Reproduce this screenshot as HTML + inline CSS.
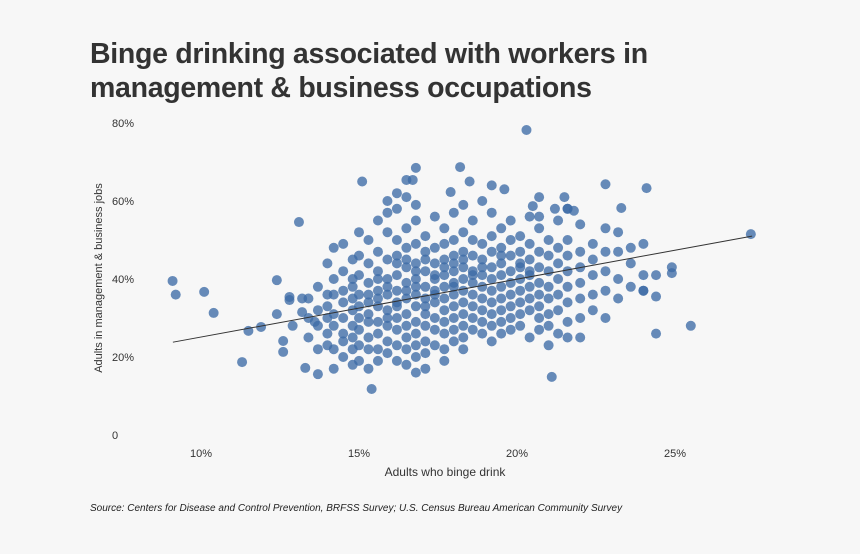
<!DOCTYPE html>
<html><head><meta charset="utf-8">
<style>
body{margin:0;background:#f7f7f7;font-family:"Liberation Sans",sans-serif;}
#wrap{position:relative;width:860px;height:554px;background:#f7f7f7;overflow:hidden;}
h1{position:absolute;left:90px;top:37px;margin:0;font-size:28.5px;line-height:34px;font-weight:bold;color:#333;letter-spacing:-0.3px;}
.src{position:absolute;left:90px;top:503px;font-size:10px;font-style:italic;color:#222;}
svg text{font-family:"Liberation Sans",sans-serif;}
</style></head><body>
<div id="wrap">
<h1>Binge drinking associated with workers in<br>management &amp; business occupations</h1>
<svg id="chart" width="860" height="554" style="position:absolute;left:0;top:0"></svg>
<div class="src">Source: Centers for Disease and Control Prevention, BRFSS Survey; U.S. Census Bureau American Community Survey</div>
</div>
<script>
const xTicks=[10,15,20,25];
const xTickLabels=["10%","15%","20%","25%"];
const yTicks=[0,20,40,60,80];
const yTickLabels=["0","20%","40%","60%","80%"];
const trendX=[9.11,27.44];
const trendY=[23.8,51.0];
const outlierX=[9.1,9.2,10.1,10.4,11.3,11.5,11.9,12.4,12.4,12.6,12.6,12.8,12.8,13.1,13.2,13.2,13.3,13.6,13.7,20.3,27.4,25.5,24.4,24.9,24.9,24.4,24.4,24.0,24.1,22.8,23.3,21.1,15.4,15.1,16.8,18.2,18.5,16.5,16.7,19.2,19.6,17.9,20.7,21.5,21.6,21.8,21.2,20.5,20.7];
const outlierY=[39.5,36,36.7,31.3,18.7,26.7,27.7,39.7,31,24.1,21.3,34.6,35.4,54.6,35,31.5,17.2,29,15.6,78.2,51.5,28,26,43,41.5,41,35.5,37,63.3,64.3,58.2,14.9,11.8,65,68.5,68.7,65,65.4,65.4,64,63,62.3,61,61,58,57.5,58,58.7,56];
const colX=[12.9,13.4,13.7,14.0,14.2,14.5,14.8,15.0,15.3,15.6,15.9,16.2,16.5,16.8,17.1,17.4,17.7,18.0,18.3,18.6,18.9,19.2,19.5,19.8,20.1,20.4,20.7,21.0,21.3,21.6,22.0,22.4,22.8,23.2,23.6,24.0];
const colY=[[28],[30,25,35],[32,28,22,38],[36,30,26,23,44,33],[48,36,28,22,17,31,40],[49,42,34,26,24,37,30,20],[45,38,32,28,22,35,40,25,18],[46,41,36,30,27,23,33,52,19],[50,44,39,34,29,25,22,31,36,17],[55,47,42,37,33,29,26,22,19,40,35],[60,52,45,40,36,32,28,24,21,38,30,57],[58,50,46,41,37,34,30,27,23,19,44,33,62],[61,53,48,43,39,35,31,28,25,22,18,37,45],[59,55,49,44,40,36,33,29,26,23,20,16,42,38],[51,47,42,38,35,31,28,24,21,17,45,33],[56,48,44,40,37,34,30,27,23,41,36],[53,49,45,41,38,35,32,29,26,22,19,43],[57,50,46,42,39,36,33,30,27,24,44,38],[59,52,47,43,40,37,34,31,28,25,22,45],[55,50,46,42,39,36,33,30,27,41],[60,49,45,41,38,35,32,29,26,43],[57,51,47,43,40,37,34,31,28,24],[53,48,44,41,38,35,32,29,26,46],[55,50,46,42,39,36,33,30,27],[51,47,43,40,37,34,31,28,44],[56,49,45,41,38,35,32,25,42],[53,47,43,39,36,33,30,27],[50,46,42,38,35,31,23,28],[55,48,44,40,36,32,26],[58,50,46,42,38,34,29,25],[54,47,43,39,35,30,25],[49,45,41,36,32],[53,47,42,37,30],[52,47,40,35],[48,44,38],[49,41,37]];
const NS="http://www.w3.org/2000/svg";
const svg=document.getElementById('chart');
function xs(v){return 201+(v-10)*31.6;}
function ys(v){return 435-v*3.9;}
function mk(t,a,txt){const e=document.createElementNS(NS,t);for(const k in a)e.setAttribute(k,a[k]);if(txt!==undefined)e.textContent=txt;svg.appendChild(e);return e;}
xTicks.forEach((t,i)=>{const e=mk('text',{x:xs(t),y:457,'text-anchor':'middle','font-size':11,fill:'#333'},xTickLabels[i]);

});
yTicks.forEach((t,i)=>{const e=mk('text',{x:112,y:ys(t)+4,'font-size':11,fill:'#333'},yTickLabels[i]);

});
let xt=mk('text',{x:445,y:476,'text-anchor':'middle','font-size':12,fill:'#333'},'Adults who binge drink');


let yt=mk('text',{x:0,y:0,'text-anchor':'middle','font-size':11,fill:'#333',transform:'translate(102,278) rotate(-90)'},'Adults in management & business jobs');


function dot(x,y){const c=mk('circle',{cx:xs(x),cy:ys(y),r:5,fill:'#3d6ca6','fill-opacity':0.78});

}
colX.forEach((x,i)=>colY[i].forEach(y=>dot(x,y)));
outlierX.forEach((x,i)=>dot(x,outlierY[i]));
const ln=mk('line',{x1:xs(trendX[0]),y1:ys(trendY[0]),x2:xs(trendX[1]),y2:ys(trendY[1]),stroke:'#333','stroke-width':1});


</script>
</body></html>
